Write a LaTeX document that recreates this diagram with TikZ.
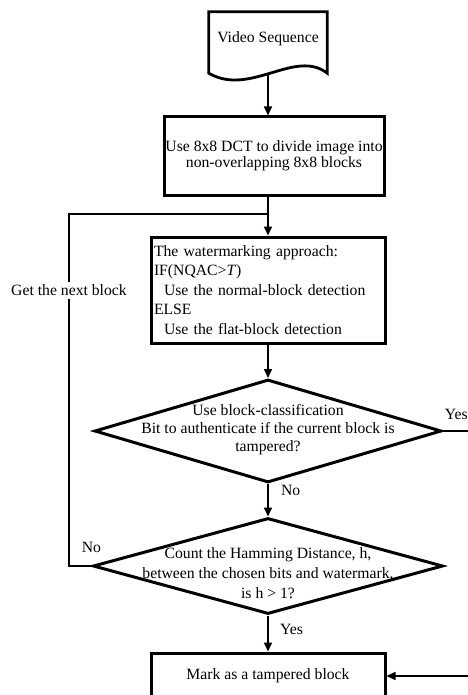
\documentclass[tikz,border=0pt]{standalone}
\usepackage{fontspec}
\setmainfont{Liberation Serif}
\usetikzlibrary{arrows.meta,shapes.geometric}

\begin{document}
\begin{tikzpicture}[x=1pt, y=-1pt,
  font=\fontsize{15.7}{16}\selectfont,
  docshape/.style={minimum width=118pt, minimum height=61pt, inner sep=0pt},
  box/.style={draw, line width=3pt, rectangle, inner sep=1pt},
  decision/.style={draw, line width=3pt, diamond, inner sep=0pt},
  link/.style={line width=1.6pt},
  arrow/.style={link, -{Triangle[length=9pt, width=8pt]}}]
\useasboundingbox (0,0) rectangle (467,695);
% blocks
\node[docshape] (B_seq) at (268,42.5) {\raisebox{11pt}{Video Sequence}};
\draw[line width=2.8pt] (B_seq.north west) -- (B_seq.north east) -- (B_seq.south east)
  .. controls +(-32,-25) and +(41,24) .. (B_seq.south west) -- cycle;
\node[box, minimum width=220pt, minimum height=78pt, align=center] (B_dct) at (274,156)
  {Use 8x8 DCT to divide image into\\non-overlapping 8x8 blocks};
\node[box, minimum width=234pt, minimum height=106pt, text width=228pt, align=left,
  font=\fontsize{15.7}{19.5}\selectfont] (B_wm) at (268,290)
  {The watermarking approach:\\IF(NQAC>\textit{T})\\\hspace*{10pt}Use the normal-block detection\\ELSE\\\hspace*{10pt}Use the flat-block detection};
\node[decision, minimum width=347pt, minimum height=103pt] (D_cls) at (268,431) {};
\node[align=center, font=\fontsize{15.7}{18}\selectfont] (T_cls) at (268,430)
  {Use block-classification\\Bit to authenticate if the current block is\\tampered?};
\node[decision, minimum width=350pt, minimum height=96pt] (D_ham) at (268,566) {};
\node[align=center, font=\fontsize{15.7}{20}\selectfont] (T_ham) at (268,573)
  {Count the Hamming Distance, h,\\between the chosen bits and watermark,\\is h > 1?};
\node[box, minimum width=234pt, minimum height=46pt] (B_mark) at (268,676) {Mark as a tampered block};
\coordinate (C_loop) at (69,214);
\coordinate (C_join) at (268,214);
% connectors
\draw[arrow] (B_seq.south) -- (B_seq.south |- B_dct.north);
\draw[arrow] (B_dct.south -| C_join) -- (B_wm.north);
\draw[arrow] (B_wm.south) -- (D_cls.north);
\draw[arrow] (D_cls.south) -- node[pos=0.2, anchor=west, xshift=9pt] (L_no1) {No} (D_ham.north);
\draw[arrow] (D_ham.south) -- node[pos=0.385, anchor=west, xshift=8pt] (L_yes2) {Yes} (B_mark.north);
\draw[link] (D_ham.west) -| node[pos=0, anchor=south, yshift=9pt] (L_no2) {No}
  node[pos=0.892, fill=white, inner sep=3pt] (L_next) {Get the next block} (C_loop) -- (C_join);
\draw[arrow] (D_cls.east) -- node[pos=0, anchor=south west, yshift=10pt, inner sep=1pt] (L_yes1) {Yes}
  ++(42,0) |- (B_mark.east);
\end{tikzpicture}
\end{document}
